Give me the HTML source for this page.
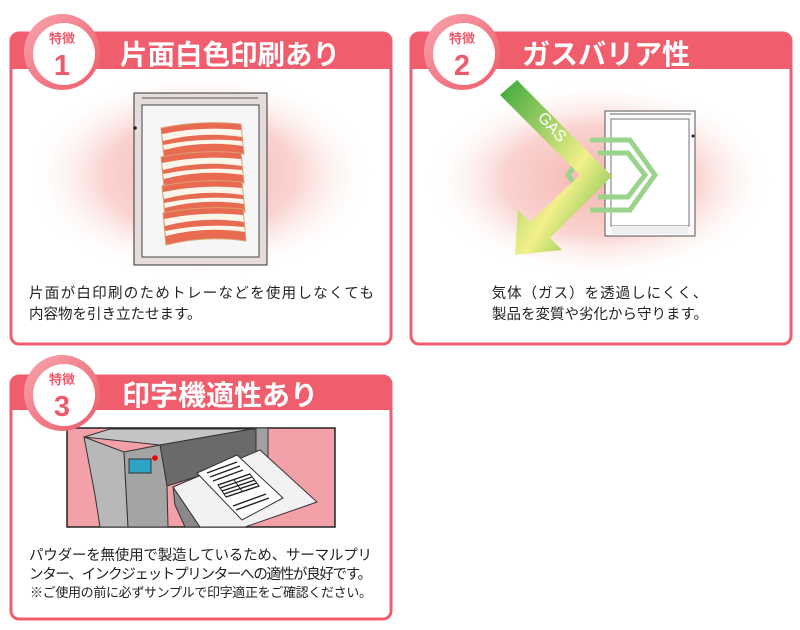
<!DOCTYPE html>
<html><head><meta charset="utf-8"><style>
html,body{margin:0;padding:0;background:#fff;}
svg{display:block;}
text{font-family:"Liberation Sans","Noto Sans CJK JP",sans-serif;}
</style></head><body>
<svg width="800" height="630" viewBox="0 0 800 630" xmlns="http://www.w3.org/2000/svg">
<defs>
<radialGradient id="glow" cx="50%" cy="50%" r="50%">
<stop offset="0" stop-color="#f5b5b0"/><stop offset="0.55" stop-color="#fad3cf"/><stop offset="1" stop-color="#fff" stop-opacity="0"/>
</radialGradient>
<linearGradient id="g1" x1="0" y1="0" x2="1" y2="1"><stop offset="0" stop-color="#3aa83a"/><stop offset="0.6" stop-color="#f3f08a"/><stop offset="1" stop-color="#4caf3a"/></linearGradient>
<linearGradient id="circ" x1="0" y1="0" x2="1" y2="1"><stop offset="0" stop-color="#f7a6ae"/><stop offset="1" stop-color="#ee5a6a"/></linearGradient>
</defs>

<!-- Panel 1 -->
<rect x="11" y="33" width="380" height="311" rx="8" fill="#fff" stroke="#ef5e6d" stroke-width="3"/>
<ellipse cx="200" cy="175" rx="175" ry="105" fill="url(#glow)"/>
<path d="M11 41 a8 8 0 0 1 8 -8 h364 a8 8 0 0 1 8 8 v28 h-380z" fill="#f05d6c"/>
<text x="120" y="64" font-size="27.5" font-weight="bold" fill="#fff">片面白色印刷あり</text>
<circle cx="62" cy="52" r="38" fill="url(#circ)"/>
<circle cx="64" cy="54" r="31" fill="#fff"/>
<text x="62" y="43" font-size="13" font-weight="bold" fill="#ee5a6a" text-anchor="middle">特徴</text>
<text x="62" y="75" font-size="29" font-weight="bold" fill="#ee5a6a" text-anchor="middle">1</text>
<!-- bag -->
<rect x="134" y="93" width="133" height="172" fill="#e6dcdc" stroke="#333" stroke-width="1"/>
<line x1="142" y1="98" x2="258" y2="98" stroke="#555"/>
<rect x="142" y="105" width="117" height="152" fill="#f6f6f6" stroke="#444" stroke-width="1"/>
<circle cx="135" cy="128" r="1.8" fill="#222"/>
<g fill="#e86a50" stroke="#d9a070" stroke-width="1">
<path d="M161 128 q40 -8 80 -4 l3 30 q-40 -6 -80 4z"/>
<path d="M161 157 q40 -8 80 -4 l3 30 q-40 -6 -80 4z"/>
<path d="M162 186 q40 -8 80 -4 l3 30 q-40 -6 -80 4z"/>
<path d="M163 213 q40 -8 80 -4 l3 32 q-40 -6 -80 4z"/>
</g>
<g fill="#fbf5ea">
<path d="M162 134 q40 -8 79 -4 l1 7 q-40 -6 -79 4z"/><path d="M163 145 q40 -8 79 -4 l1 5 q-40 -6 -79 4z"/>
<path d="M162 163 q40 -8 79 -4 l1 7 q-40 -6 -79 4z"/><path d="M163 174 q40 -8 79 -4 l1 5 q-40 -6 -79 4z"/>
<path d="M163 192 q40 -8 79 -4 l1 7 q-40 -6 -79 4z"/><path d="M164 203 q40 -8 79 -4 l1 5 q-40 -6 -79 4z"/>
<path d="M164 219 q40 -8 79 -4 l1 7 q-40 -6 -79 4z"/><path d="M165 231 q40 -8 79 -4 l1 5 q-40 -6 -79 4z"/>
</g>
<text x="29" y="298" font-size="14.5" fill="#222" textLength="345">片面が白印刷のためトレーなどを使用しなくても</text>
<text x="29" y="319" font-size="14.5" fill="#222">内容物を引き立たせます。</text>

<!-- Panel 2 -->
<rect x="411" y="33" width="380" height="311" rx="8" fill="#fff" stroke="#ef5e6d" stroke-width="3"/>
<ellipse cx="600" cy="180" rx="175" ry="100" fill="url(#glow)"/>
<path d="M411 41 a8 8 0 0 1 8 -8 h364 a8 8 0 0 1 8 8 v28 h-380z" fill="#f05d6c"/>
<text x="522" y="64" font-size="28" font-weight="bold" fill="#fff">ガスバリア性</text>
<rect x="605" y="111" width="90" height="125" fill="#fafafa" stroke="#555"/>
<line x1="610" y1="114" x2="691" y2="114" stroke="#666"/>
<rect x="611" y="119" width="78" height="107" fill="#fff" stroke="#777"/>
<rect x="612" y="226" width="76" height="8" fill="#eee"/>
<circle cx="693" cy="136" r="1.5" fill="#222"/>
<g fill="none" stroke="#9ad48c" stroke-width="5">
<path d="M590 140 h40 l25 35 l-25 35 h-40"/>
<path d="M598 153 h30 l17 22 l-17 22 h-30"/>
<path d="M575 165 l-7 10 l7 10"/>
</g>
<path d="M517 80 L612 176 L550 238 L562 250 L515 255 L518 210 L530 222 L580 175 L500 95 Z" fill="url(#g1)"/>
<text x="0" y="0" font-size="16" fill="#fff" transform="translate(537,118) rotate(48)">GAS</text>
<text x="600" y="298" font-size="14.5" fill="#222" text-anchor="middle" letter-spacing="1">気体（ガス）を透過しにくく、</text>
<text x="600" y="319" font-size="14.5" fill="#222" text-anchor="middle">製品を変質や劣化から守ります。</text>
<circle cx="462" cy="52" r="38" fill="url(#circ)"/>
<circle cx="464" cy="54" r="31" fill="#fff"/>
<text x="462" y="43" font-size="13" font-weight="bold" fill="#ee5a6a" text-anchor="middle">特徴</text>
<text x="462" y="75" font-size="29" font-weight="bold" fill="#ee5a6a" text-anchor="middle">2</text>

<!-- Panel 3 -->
<rect x="11" y="376" width="380" height="243" rx="8" fill="#fff" stroke="#ef5e6d" stroke-width="3"/>
<path d="M11 384 a8 8 0 0 1 8 -8 h364 a8 8 0 0 1 8 8 v26 h-380z" fill="#f05d6c"/>
<text x="122" y="405" font-size="28" font-weight="bold" fill="#fff">印字機適性あり</text>
<rect x="67" y="428" width="268" height="99" fill="#f3a1a8" stroke="#222" stroke-width="1.5"/>
<!-- printer -->
<g stroke="#333" stroke-width="1">
<path d="M256 428 L268 428 L268 462 L256 462 Z" fill="#a0a0a0"/>
<path d="M84 437 L110 429 L252 429 L160 445 Z" fill="#c4c4c4"/>
<path d="M160 445 L252 429 L256 430 L256 458 L167 486 Z" fill="#6a6a6a"/>
<path d="M84 437 L124 452 L128 527 L100 527 L95 495 Z" fill="#b8b8b8"/>
<path d="M124 452 L160 445 L167 486 L168 527 L128 527 Z" fill="#a4a4a4"/>
<path d="M173 487 L200 527 L185 527 L175 505 Z" fill="#8a8a8a"/>
<path d="M173 487 L260 450 L317 502 L245 527 L200 527 Z" fill="#f2f2f2"/>
<path d="M197 473 L237 455 L283 498 L242 520 Z" fill="#fff"/>
</g>
<rect x="129" y="459" width="22" height="14" fill="#2fa3c6" stroke="#333"/>
<circle cx="155" cy="458" r="2.8" fill="#e00"/>
<g stroke="#222" stroke-width="1.4">
<line x1="207" y1="473" x2="237" y2="462"/><line x1="210" y1="477" x2="240" y2="466"/><line x1="213" y1="481" x2="243" y2="470"/>
<line x1="218" y1="485" x2="250" y2="474"/><line x1="220" y1="488" x2="252" y2="477"/><line x1="222" y1="491" x2="255" y2="480"/><line x1="224" y1="494" x2="257" y2="483"/><line x1="226" y1="497" x2="259" y2="486"/>
<line x1="233" y1="506" x2="266" y2="494"/><line x1="236" y1="510" x2="269" y2="498"/>
</g>
<g stroke="#222" stroke-width="1" fill="none"><path d="M218 485 L250 474 L259 486 L226 497 Z"/><line x1="234" y1="480" x2="242" y2="491"/></g>
<text x="29" y="560" font-size="14.5" fill="#222" textLength="343">パウダーを無使用で製造しているため、サーマルプリ</text>
<text x="29" y="579" font-size="14.5" fill="#222" textLength="343">ンター、インクジェットプリンターへの適性が良好です。</text>
<text x="30" y="597" font-size="13" fill="#222" textLength="342">※ご使用の前に必ずサンプルで印字適正をご確認ください。</text>
<circle cx="62" cy="393" r="38" fill="url(#circ)"/>
<circle cx="64" cy="395" r="31" fill="#fff"/>
<text x="62" y="384" font-size="13" font-weight="bold" fill="#ee5a6a" text-anchor="middle">特徴</text>
<text x="62" y="416" font-size="29" font-weight="bold" fill="#ee5a6a" text-anchor="middle">3</text>
</svg>
</body></html>
